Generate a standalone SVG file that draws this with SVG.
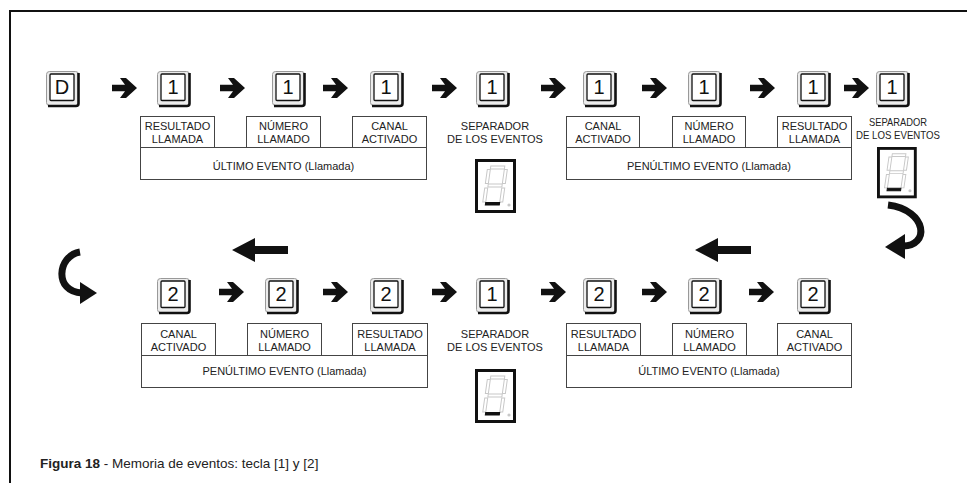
<svg xmlns="http://www.w3.org/2000/svg" xmlns:xlink="http://www.w3.org/1999/xlink" width="967" height="483" viewBox="0 0 967 483">
<style>
text{font-family:"Liberation Sans",Arial,sans-serif;fill:#222}
.lbl{font-size:11px;text-anchor:middle}
.kd{font-size:20px;text-anchor:middle;fill:#111}
.box{fill:#fff;stroke:#444;stroke-width:1}
.arr{fill:#111}
</style>
<defs>
<g id="keycap">
<rect x="0.5" y="0.5" width="32" height="34" rx="3" fill="#ececec" stroke="#999" stroke-width="1"/>
<path d="M32.5,2 V32.5 Q32.5,35 30,35 H2" fill="none" stroke="#111" stroke-width="2.6"/>
<rect x="4" y="3" width="24" height="26.5" rx="1" fill="#fff" stroke="#111" stroke-width="1.3"/>
</g>
<path id="arr" d="M0,-3.2 H13 L8,-10 H14 L25,0 L14,10 H8 L13,3.2 H0 Z"/>
<g id="seg">
<rect x="1.5" y="1.5" width="38" height="51" fill="#fff" stroke="#111" stroke-width="3"/>
<g transform="translate(0,27) skewX(-8) translate(0,-27)" fill="none" stroke="#c8c8c8" stroke-width="1">
<rect x="13" y="7" width="14" height="3"/>
<rect x="27" y="10.5" width="3" height="14"/>
<rect x="27" y="29" width="3" height="14"/>
<rect x="10" y="29" width="3" height="14"/>
<rect x="10" y="10.5" width="3" height="14"/>
<rect x="13" y="25" width="14" height="3"/>
<rect x="13" y="43.5" width="14" height="2.6" fill="#111" stroke="#111"/>
</g>
<circle cx="34" cy="46" r="1.6" fill="#c8c8c8"/>
</g>
</defs>
<rect width="967" height="483" fill="#fff"/>
<path d="M10,483 V11 H967" fill="none" stroke="#111" stroke-width="2"/>

<!-- top row keys -->
<g id="k-D" transform="translate(46,71)"><use href="#keycap"/><text class="kd" x="16" y="23">D</text></g>
<g id="k-t1" transform="translate(157,71)"><use href="#keycap"/><text class="kd" x="16" y="23">1</text></g>
<g id="k-t2" transform="translate(272,71)"><use href="#keycap"/><text class="kd" x="16" y="23">1</text></g>
<g id="k-t3" transform="translate(370,71)"><use href="#keycap"/><text class="kd" x="16" y="23">1</text></g>
<g id="k-t4" transform="translate(476,71)"><use href="#keycap"/><text class="kd" x="16" y="23">1</text></g>
<g id="k-t5" transform="translate(583,71)"><use href="#keycap"/><text class="kd" x="16" y="23">1</text></g>
<g id="k-t6" transform="translate(688,71)"><use href="#keycap"/><text class="kd" x="16" y="23">1</text></g>
<g id="k-t7" transform="translate(797,71)"><use href="#keycap"/><text class="kd" x="16" y="23">1</text></g>
<g id="k-t8" transform="translate(876,71)"><use href="#keycap"/><text class="kd" x="16" y="23">1</text></g>

<!-- bottom row keys -->
<g id="k-b1" transform="translate(157,278)"><use href="#keycap"/><text class="kd" x="16" y="23">2</text></g>
<g id="k-b2" transform="translate(265,278)"><use href="#keycap"/><text class="kd" x="16" y="23">2</text></g>
<g id="k-b3" transform="translate(370,278)"><use href="#keycap"/><text class="kd" x="16" y="23">2</text></g>
<g id="k-b4" transform="translate(476,278)"><use href="#keycap"/><text class="kd" x="16" y="23">1</text></g>
<g id="k-b5" transform="translate(583,278)"><use href="#keycap"/><text class="kd" x="16" y="23">2</text></g>
<g id="k-b6" transform="translate(688,278)"><use href="#keycap"/><text class="kd" x="16" y="23">2</text></g>
<g id="k-b7" transform="translate(797,278)"><use href="#keycap"/><text class="kd" x="16" y="23">2</text></g>

<!-- connectors -->
<g id="connectors" class="arr">
<use href="#arr" x="112" y="88"/>
<use href="#arr" x="220" y="88"/>
<use href="#arr" x="323" y="88"/>
<use href="#arr" x="432" y="88"/>
<use href="#arr" x="541" y="88"/>
<use href="#arr" x="642" y="88"/>
<use href="#arr" x="750" y="88"/>
<use href="#arr" x="844" y="88"/>
<use href="#arr" x="219" y="292"/>
<use href="#arr" x="323" y="292"/>
<use href="#arr" x="432" y="292"/>
<use href="#arr" x="541" y="292"/>
<use href="#arr" x="642" y="292"/>
<use href="#arr" x="749" y="292"/>
<polygon points="695,250 718,238 718,246 751,246 751,254 718,254 718,262"/>
<polygon points="232,250 255,238 255,246 288,246 288,254 255,254 255,262"/>
<path d="M888,205 C928,210 930,247 902,246" fill="none" stroke="#111" stroke-width="7"/>
<polygon points="885,247 905,234 905,259"/>
<path d="M80,252 C57,256 54,292 82,293" fill="none" stroke="#111" stroke-width="7"/>
<polygon points="97,293 80,282 80,304"/>
</g>

<!-- top left event group -->
<g id="ev-top-left">
<rect class="box" x="140.5" y="147.5" width="286" height="32"/>
<rect class="box" x="140.5" y="116.5" width="74" height="31"/>
<rect class="box" x="246.5" y="116.5" width="74" height="31"/>
<rect class="box" x="352.5" y="116.5" width="74" height="31"/>
<text class="lbl" x="177.5" y="130">RESULTADO</text><text class="lbl" x="177.5" y="143">LLAMADA</text>
<text class="lbl" x="283.5" y="130">NÚMERO</text><text class="lbl" x="283.5" y="143">LLAMADO</text>
<text class="lbl" x="389.5" y="130">CANAL</text><text class="lbl" x="389.5" y="143">ACTIVADO</text>
<text class="lbl" x="283.5" y="170">ÚLTIMO EVENTO (Llamada)</text>
</g>

<g id="sep-top">
<text class="lbl" x="495" y="130">SEPARADOR</text><text class="lbl" x="495" y="143">DE LOS EVENTOS</text>
<use href="#seg" x="475" y="159"/>
</g>

<g id="ev-top-right">
<rect class="box" x="566.5" y="147.5" width="285" height="32"/>
<rect class="box" x="566.5" y="116.5" width="73" height="31"/>
<rect class="box" x="672.5" y="116.5" width="73" height="31"/>
<rect class="box" x="777.5" y="116.5" width="74" height="31"/>
<text class="lbl" x="603" y="130">CANAL</text><text class="lbl" x="603" y="143">ACTIVADO</text>
<text class="lbl" x="709" y="130">NÚMERO</text><text class="lbl" x="709" y="143">LLAMADO</text>
<text class="lbl" x="814.5" y="130">RESULTADO</text><text class="lbl" x="814.5" y="143">LLAMADA</text>
<text class="lbl" x="709" y="170">PENÚLTIMO EVENTO (Llamada)</text>
</g>

<g id="sep-right">
<text class="lbl" x="898" y="126" textLength="58" lengthAdjust="spacingAndGlyphs">SEPARADOR</text>
<text class="lbl" x="898" y="139" textLength="84" lengthAdjust="spacingAndGlyphs">DE LOS EVENTOS</text>
<use href="#seg" transform="translate(877,147) scale(0.97,0.95)"/>
</g>

<!-- bottom -->
<g id="ev-bot-left">
<rect class="box" x="141.5" y="355.5" width="286" height="32"/>
<rect class="box" x="141.5" y="323.5" width="74" height="32"/>
<rect class="box" x="247.5" y="323.5" width="74" height="32"/>
<rect class="box" x="352.5" y="323.5" width="75" height="32"/>
<text class="lbl" x="178.5" y="338">CANAL</text><text class="lbl" x="178.5" y="351">ACTIVADO</text>
<text class="lbl" x="284.5" y="338">NÚMERO</text><text class="lbl" x="284.5" y="351">LLAMADO</text>
<text class="lbl" x="390" y="338">RESULTADO</text><text class="lbl" x="390" y="351">LLAMADA</text>
<text class="lbl" x="284.5" y="375">PENÚLTIMO EVENTO (Llamada)</text>
</g>

<g id="sep-bot">
<text class="lbl" x="495" y="338">SEPARADOR</text><text class="lbl" x="495" y="351">DE LOS EVENTOS</text>
<use href="#seg" x="475" y="369"/>
</g>

<g id="ev-bot-right">
<rect class="box" x="566.5" y="355.5" width="285" height="32"/>
<rect class="box" x="566.5" y="323.5" width="74" height="32"/>
<rect class="box" x="672.5" y="323.5" width="74" height="32"/>
<rect class="box" x="777.5" y="323.5" width="74" height="32"/>
<text class="lbl" x="603.5" y="338">RESULTADO</text><text class="lbl" x="603.5" y="351">LLAMADA</text>
<text class="lbl" x="709.5" y="338">NÚMERO</text><text class="lbl" x="709.5" y="351">LLAMADO</text>
<text class="lbl" x="814.5" y="338">CANAL</text><text class="lbl" x="814.5" y="351">ACTIVADO</text>
<text class="lbl" x="709" y="375">ÚLTIMO EVENTO (Llamada)</text>
</g>

<text id="caption" x="40" y="468" style="font-size:13.5px"><tspan font-weight="bold">Figura 18</tspan> - Memoria de eventos: tecla [1] y [2]</text>
</svg>
